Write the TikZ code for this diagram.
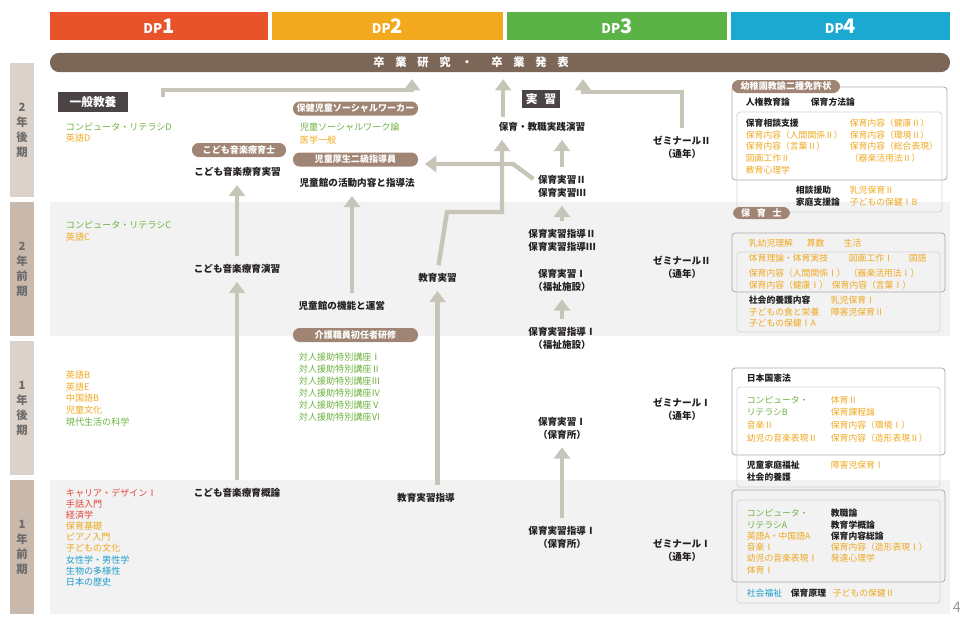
\documentclass[tikz,border=0pt]{standalone}
\usepackage{fontspec}
\setmainfont{Noto Sans CJK JP}
\usepackage{tikz}
\usetikzlibrary{arrows.meta,calc,positioning}
\definecolor{dpred}{HTML}{E8532B}
\definecolor{dporange}{HTML}{F3A91D}
\definecolor{dpgreen}{HTML}{5BB246}
\definecolor{dpblue}{HTML}{1BA9D1}
\definecolor{barbrown}{HTML}{7C6657}
\definecolor{pillbrown}{HTML}{A08574}
\definecolor{headdark}{HTML}{4A4445}
\definecolor{yrdark}{HTML}{C9B8AC}
\definecolor{yrlight}{HTML}{DDD2CA}
\definecolor{rowgray}{HTML}{F2F2F2}
\definecolor{flowgray}{HTML}{C7C5B7}
\definecolor{cgreen}{HTML}{6DB23F}
\definecolor{corange}{HTML}{EFA81F}
\definecolor{cred}{HTML}{E0483A}
\definecolor{cblue}{HTML}{1E9CCB}
\definecolor{cblack}{HTML}{231F20}
\definecolor{boxdark}{HTML}{ABABAB}
\definecolor{boxlight}{HTML}{D4D4D4}

\begin{document}
\begin{tikzpicture}[
    x=0.75pt,y=-0.75pt,
    font=\fontsize{6.8}{8}\selectfont,
    dphead/.style={text=white,minimum height=21pt,inner sep=0pt,font=\bfseries},
    yr/.style={minimum width=18pt,minimum height=100.5pt,inner sep=0pt,align=center,
               text=black!58,font=\bfseries\fontsize{8.5}{11.25}\selectfont},
    cert/.style={fill=pillbrown,text=white,rounded corners=5pt,minimum height=10.5pt,
                 inner sep=1pt,font=\bfseries\fontsize{6.8}{8}\selectfont},
    darkhead/.style={fill=headdark,text=white,inner sep=0pt,
                     font=\bfseries\fontsize{8.8}{10}\selectfont},
    subj/.style={text=cblack,align=center,inner sep=1pt,
                 font=\bfseries\fontsize{7.2}{9.6}\selectfont},
    crs/.style={anchor=west,inner sep=0.5pt},
    kg/.style={crs,text=cgreen},
    ko/.style={crs,text=corange},
    kr/.style={crs,text=cred},
    kc/.style={crs,text=cblue},
    kb/.style={crs,text=cblack,font=\bfseries\fontsize{6.8}{8}\selectfont},
    lic/.style={crs,font=\fontsize{6.6}{8}\selectfont},
    licg/.style={lic,text=cgreen},
    lico/.style={lic,text=corange},
    licc/.style={lic,text=cblue},
    licb/.style={lic,text=cblack,font=\bfseries\fontsize{6.6}{8}\selectfont},
    boxa/.style={draw=boxdark,line width=0.6pt,rounded corners=2.5pt},
    boxb/.style={draw=boxlight,line width=0.6pt,rounded corners=2.5pt},
    flow/.style={draw=flowgray,line width=3.3pt,-{Triangle[width=12pt,length=8.5pt]},
                 shorten >=5pt,shorten <=5pt}
  ]
  \useasboundingbox (0,0) rectangle (960,619);

  % semester bands
  \fill[rowgray] (50,202) rectangle (950,336);
  \fill[rowgray] (50,480) rectangle (950,614);
  \node[yr,fill=yrlight] (yr2b) at (22,130) {2\\年\\後\\期};
  \node[yr,fill=yrdark]  (yr2a) at (22,269) {2\\年\\前\\期};
  \node[yr,fill=yrlight] (yr1b) at (22,408) {1\\年\\後\\期};
  \node[yr,fill=yrdark]  (yr1a) at (22,547) {1\\年\\前\\期};

  % DP headers and graduation bar
  \node[dphead,fill=dpred,minimum width=163.5pt]    (dp1) at (159,26)   {{\fontsize{10}{10}\selectfont DP}{\fontsize{15}{15}\selectfont 1}};
  \node[dphead,fill=dporange,minimum width=173.25pt] (dp2) at (387.5,26) {{\fontsize{10}{10}\selectfont DP}{\fontsize{15}{15}\selectfont 2}};
  \node[dphead,fill=dpgreen,minimum width=165pt]    (dp3) at (617,26)   {{\fontsize{10}{10}\selectfont DP}{\fontsize{15}{15}\selectfont 3}};
  \node[dphead,fill=dpblue,minimum width=164.25pt]  (dp4) at (840.5,26) {{\fontsize{10}{10}\selectfont DP}{\fontsize{15}{15}\selectfont 4}};
  \node[fill=barbrown,rounded corners=7pt,minimum width=675pt,minimum height=14.5pt,inner sep=0pt] (bar) at (500,62.5) {};
  \node[text=white,font=\bfseries\fontsize{8.5}{9}\selectfont,inner sep=0pt] (bartitle) at (471,62.5)
    {卒\hspace{8pt}業\hspace{8pt}研\hspace{8pt}究\hspace{8pt}・\hspace{14pt}卒\hspace{8pt}業\hspace{8pt}発\hspace{8pt}表};

  % DP1: general education and music therapy
  \node[darkhead,minimum width=52.5pt,minimum height=15pt] (ippan) at (93,102) {一般教養};
  \node[kg] (c2b1) at (65,127) {コンピュータ・リテラシD};
  \node[ko] (c2b2) at (65,138) {英語D};
  \node[kg] (c2a1) at (65,225) {コンピュータ・リテラシC};
  \node[ko] (c2a2) at (65,237) {英語C};
  \foreach \t/\s [count=\i] in {英語B/ko,英語E/ko,中国語B/ko,児童文化/ko,現代生活の科学/kg}
    \node[\s] (c1b\i) at (65,363.3+11.7*\i) {\t};
  \foreach \t/\s [count=\i] in {キャリア・デザインⅠ/kr,手話入門/kr,経済学/kr,保育基礎/ko,ピアノ入門/ko,
                                子どもの文化/ko,女性学・男性学/kc,生物の多様性/kc,日本の歴史/kc}
    \node[\s] (c1a\i) at (65,481.9+11.1*\i) {\t};
  \node[cert,minimum width=70.5pt] (ongakucert) at (239,150) {こども音楽療育士};
  \node[subj] (ongakujisshu) at (237.5,172) {こども音楽療育実習};
  \node[subj] (ongakuenshu) at (237,269) {こども音楽療育演習};
  \node[subj] (ongakugairon) at (237,493) {こども音楽療育概論};

  % DP2: social work and child welfare
  \node[cert,minimum width=93.75pt] (swcert) at (355.5,108.5) {保健児童ソーシャルワーカー};
  \node[kg] (jsw) at (299,127) {児童ソーシャルワーク論};
  \node[ko] (igaku) at (299,140) {医学一般};
  \node[cert,minimum width=93.75pt] (kouseicert) at (355.5,159.5) {児童厚生二級指導員};
  \node[subj,anchor=west] (katsudo) at (298,183) {児童館の活動内容と指導法};
  \node[subj,anchor=west] (kinou) at (297,306) {児童館の機能と運営};
  \node[cert,minimum width=93.75pt] (kaigocert) at (355.5,335) {介護職員初任者研修};
  \foreach \n [count=\i] in {Ⅰ,Ⅱ,Ⅲ,Ⅳ,Ⅴ,Ⅵ}
    \node[kg] (taijin\i) at (298,345+12*\i) {対人援助特別講座\n};
  \node[subj] (kyoiku) at (437.5,278) {教育実習};
  \node[subj] (kyoikushido) at (426,498) {教育実習指導};

  % DP3: practicum and seminars
  \node[darkhead,minimum width=28.5pt,minimum height=13.5pt] (jisshuhead) at (541,99) {実\hspace{5pt}習};
  \node[subj] (jissen) at (542,127) {保育・教職実践演習};
  \node[subj] (hj23) at (562,186.5) {保育実習Ⅱ\\保育実習Ⅲ};
  \node[subj] (hjs23) at (562,240) {保育実習指導Ⅱ\\保育実習指導Ⅲ};
  \node[subj] (hj1f) at (562,280) {保育実習Ⅰ\\（福祉施設）};
  \node[subj] (hjs1f) at (562,338.5) {保育実習指導Ⅰ\\（福祉施設）};
  \node[subj] (hj1h) at (562,428) {保育実習Ⅰ\\（保育所）};
  \node[subj] (hjs1h) at (562,537.5) {保育実習指導Ⅰ\\（保育所）};
  \node[subj] (zemi2b) at (682,147.5) {ゼミナールⅡ\\（通年）};
  \node[subj] (zemi2a) at (682,267.5) {ゼミナールⅡ\\（通年）};
  \node[subj] (zemi1b) at (682,409) {ゼミナールⅠ\\（通年）};
  \node[subj] (zemi1a) at (682,550.5) {ゼミナールⅠ\\（通年）};

  % DP4: licence course groups
  \draw[boxa] (732,87) rectangle (947,180);
  \draw[boxb] (737,112) rectangle (942,212);
  \draw[boxa] (732,233) rectangle (945,292);
  \draw[boxb] (737,252) rectangle (940,332);
  \draw[boxa] (732,368) rectangle (945,455);
  \draw[boxb] (737,387) rectangle (940,487);
  \draw[boxa] (732,490) rectangle (945,582);
  \draw[boxb] (737,500) rectangle (940,603);
  \node[cert,minimum width=81pt,minimum height=9.75pt] (youcert) at (786,86.5) {幼稚園教諭二種免許状};
  \node[cert,minimum width=42.75pt,minimum height=9pt] (hoikushi) at (761.5,213) {保\hspace{5pt}育\hspace{5pt}士};

  \node[licb] (jinken) at (745,102) {人権教育論};
  \node[licb] (houhou) at (810,102) {保育方法論};
  \foreach \t/\s [count=\i] in {保育相談支援/licb,保育内容（人間関係Ⅱ）/lico,保育内容（言葉Ⅱ）/lico,図画工作Ⅱ/lico,教育心理学/lico}
    \node[\s] (l2bl\i) at (745,111.2+11.8*\i) {\t};
  \foreach \t [count=\i] in {保育内容（健康Ⅱ）,保育内容（環境Ⅱ）,保育内容（総合表現）,（器楽活用法Ⅱ）}
    \node[lico] (l2br\i) at (849,111.2+11.8*\i) {\t};
  \node[licb] (soudan) at (795,190) {相談援助};
  \node[lico] (nyuji2) at (849,190) {乳児保育Ⅱ};
  \node[licb] (katei) at (795,202) {家庭支援論};
  \node[lico] (hoken1b) at (849,202) {子どもの保健ⅠB};

  \node[lico] (nyuyoji) at (748,243) {乳幼児理解};
  \node[lico] (sansu) at (806,243) {算数};
  \node[lico] (seikatsu) at (843,243) {生活};
  \node[lico] (taiiku) at (748,258) {体育理論・体育実技};
  \node[lico] (zuga1) at (848,258) {図画工作Ⅰ};
  \node[lico] (kokugo) at (908,258) {国語};
  \node[lico] (ningen1) at (748,273) {保育内容（人間関係Ⅰ）};
  \node[lico] (kigaku1) at (848,273) {（器楽活用法Ⅰ）};
  \node[lico] (kenkou1) at (748,285) {保育内容（健康Ⅰ）};
  \node[lico] (kotoba1) at (831,285) {保育内容（言葉Ⅰ）};
  \node[licb] (shakaiyogonai) at (748,300) {社会的養護内容};
  \node[lico] (nyuji1) at (830,300) {乳児保育Ⅰ};
  \node[lico] (shoku) at (748,312) {子どもの食と栄養};
  \node[lico] (shogai2) at (830,312) {障害児保育Ⅱ};
  \node[lico] (hoken1a) at (748,323) {子どもの保健ⅠA};

  \node[licb] (kenpou) at (746,378) {日本国憲法};
  \foreach \t/\s/\y [count=\i] in {コンピュータ・/licg/400,リテラシB/licg/412,音楽Ⅱ/lico/425,幼児の音楽表現Ⅱ/lico/438}
    \node[\s] (l1bl\i) at (746,\y) {\t};
  \foreach \t/\y [count=\i] in {体育Ⅱ/400,保育課程論/412,保育内容（環境Ⅰ）/425,保育内容（造形表現Ⅱ）/438}
    \node[lico] (l1br\i) at (830,\y) {\t};
  \node[licb] (jidoukatei) at (746,465) {児童家庭福祉};
  \node[lico] (shogai1) at (830,465) {障害児保育Ⅰ};
  \node[licb] (shakaiyogo) at (746,477) {社会的養護};

  \foreach \t/\s/\y [count=\i] in {コンピュータ・/licg/513,リテラシA/licg/525,英語A・中国語A/lico/536,
                                    音楽Ⅰ/lico/547,幼児の音楽表現Ⅰ/lico/558,体育Ⅰ/lico/570}
    \node[\s] (l1al\i) at (746,\y) {\t};
  \foreach \t/\s/\y [count=\i] in {教職論/licb/513,教育学概論/licb/525,保育内容総論/licb/536,
                                    保育内容（造形表現Ⅰ）/lico/547,発達心理学/lico/558}
    \node[\s] (l1ar\i) at (830,\y) {\t};
  \node[licc] (shakaifukushi) at (746,593) {社会福祉};
  \node[licb] (genri) at (790,593) {保育原理};
  \node[lico] (hoken2) at (832,593) {子どもの保健Ⅱ};

  \node[text=black!40,font=\fontsize{11}{11}\selectfont,inner sep=0pt] (pagenum) at (957,607) {4};

  % connectors
  \coordinate (a1s) at (163,97);
  \coordinate (a1c) at (412,90);
  \draw[flow,shorten <=0pt] (a1s) |- (a1c) -- (a1c |- bar.south);
  \coordinate (a2s) at ($(jissen.north west)+(6,-4)$);
  \draw[flow,shorten <=0pt] (a2s) -- (a2s |- bar.south);
  \coordinate (a3c) at (583,92);
  \draw[flow] (zemi2b.north) |- (a3c) -- (a3c |- bar.south);
  \coordinate (a4c) at (513,164);
  \draw[flow,shorten <=0pt] ($(hj23.north west)+(-3,5)$) -- (a4c) -- (a4c -| kouseicert.east);
  \coordinate (a5a) at (447,212);
  \coordinate (a5b) at (502,212);
  \draw[flow] (kyoiku.north) -- (a5a) -- (a5b) -- (a5b |- jissen.south);
  \draw[flow] (hj23.north) -- (hj23.north |- jissen.south);
  \draw[flow] (hjs23.north) -- (hj23.south);
  \draw[flow] (hjs1f.north) -- (hj1f.south);
  \draw[flow] (hjs1h.north) -- (hj1h.south);
  \draw[flow] (kyoiku |- kyoikushido.north) -- (kyoiku.south);
  \draw[flow] ($(kinou.north west)+(55,0)$) -- ($(katsudo.south west)+(54,0)$);
  \draw[flow] (ongakugairon.north) -- (ongakugairon.north |- ongakuenshu.south);
  \draw[flow] (ongakuenshu.north) -- (ongakuenshu.north |- ongakujisshu.south);
\end{tikzpicture}
\end{document}
